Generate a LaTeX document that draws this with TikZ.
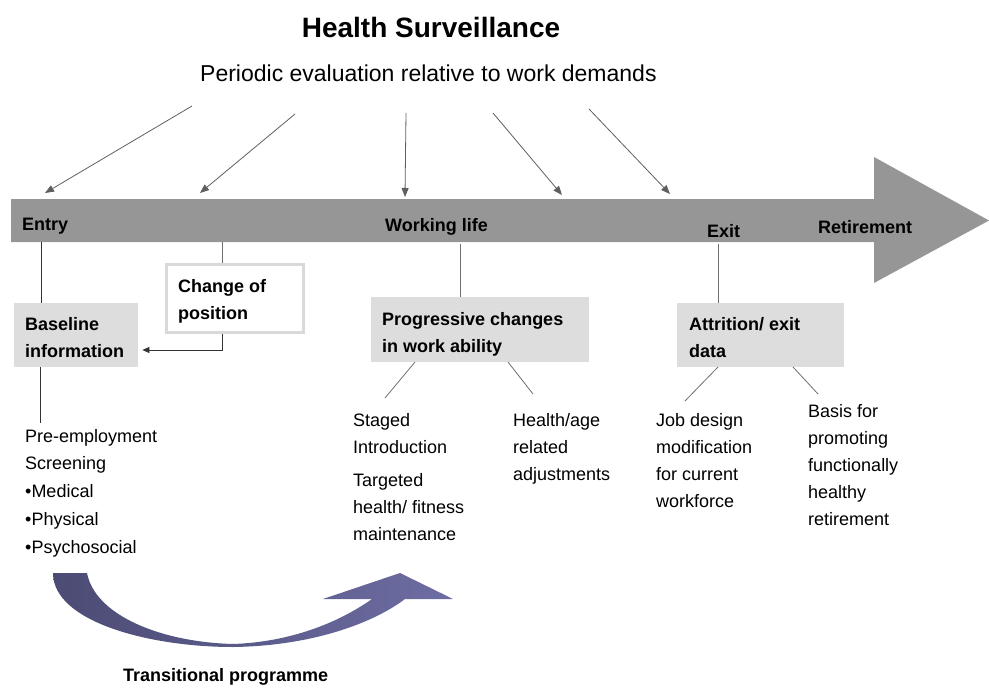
\documentclass[tikz,border=0pt]{standalone}
\usepackage{fontspec}
\setmainfont{Liberation Sans}
\usetikzlibrary{arrows.meta,calc}
\definecolor{bargray}{HTML}{969696}
\definecolor{boxgray}{HTML}{DDDDDD}
\definecolor{boxline}{HTML}{D9D9D9}
\definecolor{arrgray}{HTML}{5F5F5F}
\definecolor{linegray}{HTML}{6E6E6E}
\definecolor{purpleL}{HTML}{4B4B74}
\definecolor{purpleR}{HTML}{6D6DA3}
\begin{document}
\begin{tikzpicture}[x=1pt,y=-1pt,
  txt/.style={inner sep=0pt, anchor=base west, align=left, font=\fontsize{18}{27}\selectfont},
  btxt/.style={txt, font=\fontsize{18}{27}\selectfont\bfseries},
  graybox/.style={fill=boxgray, draw=none, inner sep=0pt, anchor=north west},
  whitebox/.style={fill=white, draw=boxline, line width=2.5pt, inner sep=0pt, anchor=north west},
  toparrow/.style={draw=arrgray, line width=0.8pt, -{Triangle[length=9pt,width=7pt]}},
  conn/.style={draw=linegray, line width=0.8pt},
  darkconn/.style={draw=black!80, line width=0.8pt}]
\useasboundingbox (0,0) rectangle (989,688);

% title
\node[inner sep=0pt, anchor=base, font=\fontsize{28}{32}\selectfont\bfseries] (title) at (431,37) {Health Surveillance};
\node[txt, font=\fontsize{23}{28}\selectfont] (sub) at (200,81) {Periodic evaluation relative to work demands};

% big arrow
\fill[bargray] (11,199) -- (874,199) -- (874,157) -- (989,220.5) -- (874,283) -- (874,242) -- (11,242) -- cycle;

% bar labels
\node[btxt] (entry) at (22,230) {Entry};
\node[btxt] (work) at (385,231) {Working life};
\node[btxt] (exit) at (707,237) {Exit};
\node[btxt] (ret) at (818,233) {Retirement};

% top arrows
\coordinate (s1) at (192,106); \coordinate (t1) at (45,193);
\coordinate (s2) at (295,114); \coordinate (t2) at (200,193);
\coordinate (s3) at (406,113); \coordinate (t3) at (405,197);
\coordinate (s4) at (493,113); \coordinate (t4) at (562,195);
\coordinate (s5) at (589,109); \coordinate (t5) at (670,194);
\foreach \i in {1,...,5} \draw[toparrow] (s\i) -- (t\i);

% boxes (multi-line text nodes are anchored at the baseline of their last line)
\node[graybox, minimum width=124pt, minimum height=64pt] (base) at (14,303) {};
\node[btxt] (basetxt) at (25,357) {Baseline\\information};
\node[whitebox, minimum width=137pt, minimum height=68pt] (chg) at (165,263) {};
\node[btxt] (chgtxt) at (178,319) {Change of\\position};
\node[graybox, minimum width=218pt, minimum height=65pt] (pw) at (371,297) {};
\node[btxt] (pwtxt) at (382,352) {Progressive changes\\in work ability};
\node[graybox, minimum width=167pt, minimum height=64pt] (att) at (677,303) {};
\node[btxt] (atttxt) at (689,357) {Attrition/ exit\\data};

% bar to boxes
\coordinate (b1) at (41,242);
\coordinate (b2) at (222,242);
\coordinate (b3) at (460,244);
\coordinate (b4) at (718,244);
\draw[darkconn] (b1) -- (b1 |- base.north);
\draw[conn] (b2) -- (b2 |- chg.north);
\draw[conn] (b3) -- (b3 |- pw.north);
\draw[conn] (b4) -- (b4 |- att.north);
\draw[darkconn, -{Triangle[length=7pt,width=6pt]}] (b2 |- chg.south) -- (222,350) -- ($(base.east |- 0,350)+(4,0)$);

% lower texts
\node[txt] (pre) at (25,553) {Pre-employment\\Screening\\[1pt]•Medical\\[1pt]•Physical\\[1pt]•Psychosocial};
\node[txt] (staged) at (353,540) {Staged\\Introduction\\[6pt]Targeted\\health/ fitness\\maintenance};
\node[txt] (hage) at (513,480) {Health/age\\related\\adjustments};
\node[txt] (job) at (656,507) {Job design\\modification\\for current\\workforce};
\node[txt] (basis) at (808,525) {Basis for\\promoting\\functionally\\healthy\\retirement};

% connectors to texts
\coordinate (e0) at (40,423);
\coordinate (e1) at (385,398);
\coordinate (e2) at (533,394);
\coordinate (e3) at (685,401);
\coordinate (e4) at (818,394);
\draw[darkconn] (e0 |- base.south) -- (e0);
\draw[conn] (415,362) -- (e1);
\draw[conn] (508,362) -- (e2);
\draw[conn] (718,367) -- (e3);
\draw[conn] (793,367) -- (e4);

% transitional programme curved arrow
\shade[left color=purpleL, right color=purpleR]
  (53,573) .. controls (53,622) and (150,647) .. (233,647)
  .. controls (310,646) and (372,624) .. (405,599)
  -- (453,599) -- (400,573) -- (323,599) -- (372,599)
  .. controls (338,623) and (290,642) .. (233,644)
  .. controls (160,642) and (95,615) .. (87,573) -- cycle;
\node[btxt] (trans) at (123,681) {Transitional programme};
\end{tikzpicture}
\end{document}
